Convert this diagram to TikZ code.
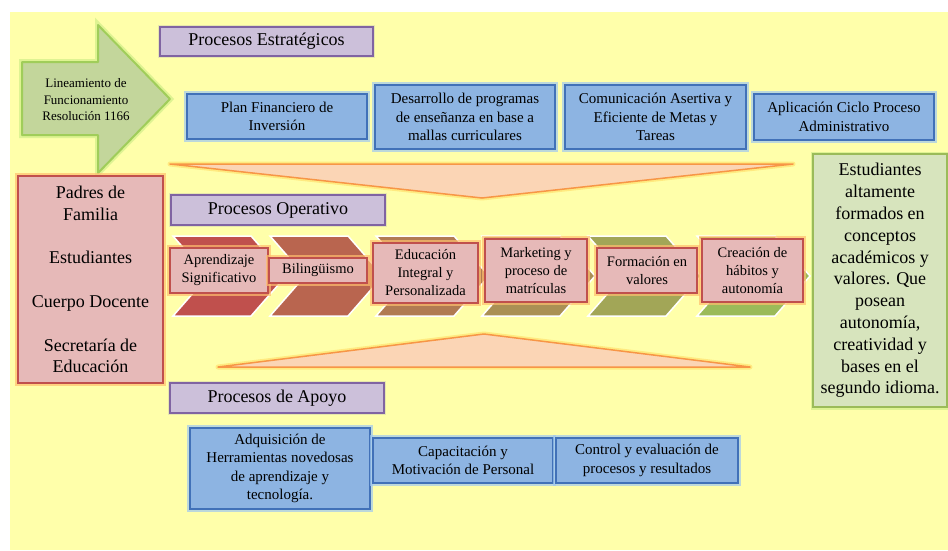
\documentclass[tikz,border=0pt]{standalone}
\usepackage{fontspec}
\setmainfont{Liberation Serif}
\usepackage{xcolor}
\usetikzlibrary{calc}
\definecolor{bgYellow}{RGB}{255,255,170}
\definecolor{headPurple}{RGB}{204,192,218}
\definecolor{headPurpleDark}{RGB}{128,100,162}
\definecolor{procBlue}{RGB}{141,180,226}
\definecolor{procBlueDark}{RGB}{65,113,184}
\definecolor{glowBlue}{RGB}{160,200,240}
\definecolor{opPink}{RGB}{230,185,184}
\definecolor{opRed}{RGB}{192,80,77}
\definecolor{glowOrange}{RGB}{255,190,110}
\definecolor{triFill}{RGB}{251,213,181}
\definecolor{triLine}{RGB}{247,150,70}
\definecolor{glowYellow}{RGB}{255,220,100}
\definecolor{leafGreen}{RGB}{215,228,189}
\definecolor{leafGreenDark}{RGB}{155,187,89}
\definecolor{arrowGreen}{RGB}{195,214,155}
\definecolor{arrowLine}{RGB}{160,205,90}
\definecolor{glowGreen}{RGB}{200,235,130}
\definecolor{chevRed}{RGB}{192,80,77}
\definecolor{chevGreen}{RGB}{155,187,89}

\begin{document}
\begin{tikzpicture}[x=1pt, y=-1pt,
    headbox/.style={draw=headPurpleDark, fill=headPurple, line width=1.6pt, inner sep=0pt,
        font=\fontsize{18}{21.8}\selectfont,
        preaction={draw=black!30, line width=4pt, opacity=0.3}},
    bluebox/.style={draw=procBlueDark, fill=procBlue, line width=1.6pt, inner sep=0pt, align=center,
        font=\fontsize{15}{18.5}\selectfont,
        preaction={draw=glowBlue, line width=6pt, opacity=0.7}},
    pinkbox/.style={draw=opRed, fill=opPink, line width=2pt, inner sep=0pt, align=center,
        font=\fontsize{14.5}{18}\selectfont,
        preaction={draw=glowOrange, line width=6pt, opacity=0.7}},
    bigbox/.style={line width=1.8pt, inner sep=0pt, align=center,
        font=\fontsize{18}{21.8}\selectfont},
    fanshape/.style={draw=triLine, fill=triFill, line width=1.5pt, line join=round,
        preaction={draw=glowYellow, line width=5pt, opacity=0.6, line join=round}},
    chev/.style={draw=white, line width=1.5pt}]

    \useasboundingbox (0,0) rectangle (948,550);
    % background
    \fill[bgYellow] (10,12) rectangle (948,550);

    % input arrow
    \draw[draw=arrowLine, fill=arrowGreen, line width=2pt, line join=round,
        preaction={draw=glowGreen, line width=6pt, opacity=0.6}]
        (22,62) -- (98,62) -- (98,25) -- (170,99) -- (98,173) -- (98,135) -- (22,135) -- cycle;
    \node[align=center, font=\fontsize{13}{16.5}\selectfont] (lineamiento) at (86,100)
        {Lineamiento de\\Funcionamiento\\Resolución 1166};

    % funnels
    \draw[fanshape] (170,164) -- (793,164) -- (482,198) -- cycle;
    \draw[fanshape] (218,367) -- (750,367) -- (484,334) -- cycle;

    % chevrons, red to green
    \foreach \i/\x in {0/173,1/270,2/376,3/482,4/588,5/697}{
        \pgfmathtruncatemacro{\mix}{20*\i}
        \filldraw[chev, fill=chevGreen!\mix!chevRed]
            (\x,236) -- ++(78,0) -- ++(35,40) -- ++(-35,40) -- ++(-78,0) -- ++(35,-40) -- cycle;
    }

    % headings
    \node[headbox, minimum width=213, minimum height=29] (est) at (266.5,41.5) {Procesos Estratégicos};
    \node[headbox, minimum width=214, minimum height=30] (ope) at (278,210) {Procesos Operativo};
    \node[headbox, minimum width=214, minimum height=30] (apo) at (277,398) {Procesos de Apoyo};

    % strategic processes
    \node[bluebox, minimum width=180, minimum height=45] (plan) at (277,116.5)
        {Plan Financiero de\\Inversión};
    \node[bluebox, minimum width=180, minimum height=64] (desarrollo) at (465,117)
        {Desarrollo de programas\\de enseñanza en base a\\mallas curriculares};
    \node[bluebox, minimum width=181, minimum height=64] (comunicacion) at (655.5,117)
        {Comunicación Asertiva y\\Eficiente de Metas y\\Tareas};
    \node[bluebox, minimum width=180, minimum height=46] (aplicacion) at (844,117)
        {Aplicación Ciclo Proceso\\Administrativo};

    % operative processes
    \node[pinkbox, minimum width=98, minimum height=45] (apre) at (219,270.5) {Aprendizaje\\Significativo};
    \node[pinkbox, minimum width=98, minimum height=25] (bili) at (318,270.5) {Bilingüismo};
    \node[pinkbox, minimum width=105, minimum height=60] (educ) at (425.5,272.5) {Educación\\Integral y\\Personalizada};
    \node[pinkbox, minimum width=102, minimum height=63] (mark) at (536,270.5) {Marketing y\\proceso de\\matrículas};
    \node[pinkbox, minimum width=100, minimum height=45] (form) at (647,270.5) {Formación en\\valores};
    \node[pinkbox, minimum width=101, minimum height=63] (crea) at (752.5,270.5) {Creación de\\hábitos y\\autonomía};

    % support processes
    \node[bluebox, minimum width=180, minimum height=81] (adqu) at (280,468.5)
        {Adquisición de\\Herramientas novedosas\\de aprendizaje y\\tecnología.};
    \node[bluebox, minimum width=180, minimum height=45] (capa) at (463,460.5)
        {Capacitación y\\Motivación de Personal};
    \node[bluebox, minimum width=182, minimum height=45] (cont) at (647,460.5)
        {Control y evaluación de\\procesos y resultados};

    % actors and result
    \node[bigbox, draw=opRed, fill=opPink, minimum width=145, minimum height=207,
        preaction={draw=glowOrange, line width=6pt, opacity=0.7}] (actores) at (90.5,279.5)
        {Padres de\\Familia\\[21.8pt]Estudiantes\\[21.8pt]Cuerpo Docente\\[21.8pt]Secretaría de\\Educación};
    \node[bigbox, draw=leafGreenDark, fill=leafGreen, minimum width=134, minimum height=253,
        preaction={draw=glowGreen, line width=5pt, opacity=0.6}] (egresados) at (880,280.5)
        {Estudiantes\\altamente\\formados en\\conceptos\\académicos y\\valores. Que\\posean\\autonomía,\\creatividad y\\bases en el\\segundo idioma.};
\end{tikzpicture}
\end{document}
